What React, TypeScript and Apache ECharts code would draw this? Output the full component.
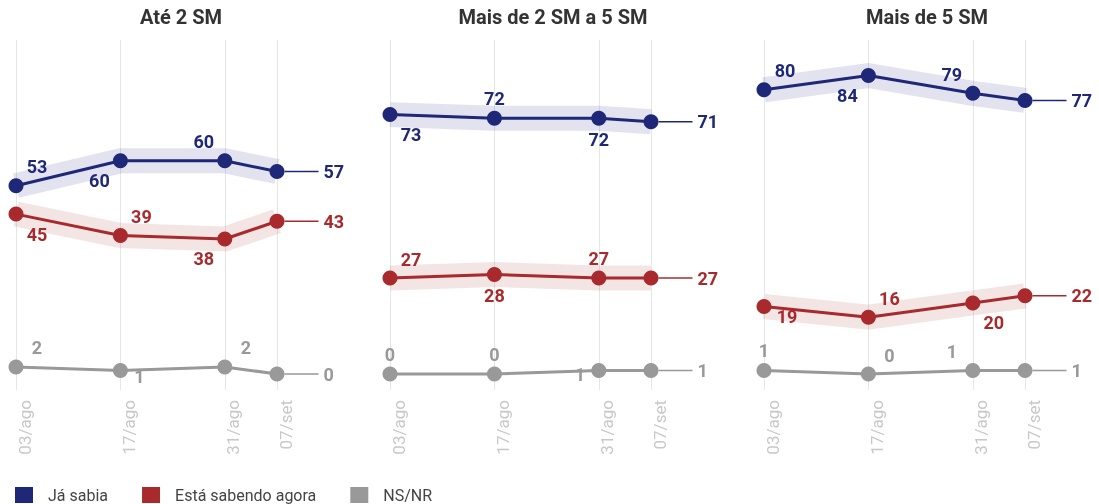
import React, { useEffect, useRef } from "react";
import * as echarts from "echarts";

// ---- data ----
const dates = ["2022-08-03", "2022-08-17", "2022-08-31", "2022-09-07"];
const dateLabels = ["03/ago", "17/ago", "31/ago", "07/set"];
const panelTitles = ["Até 2 SM", "Mais de 2 SM a 5 SM", "Mais de 5 SM"];
const seriesNames = ["Já sabia", "Está sabendo agora", "NS/NR"];
const jaSabia = [
  [53, 60, 60, 57],
  [73, 72, 72, 71],
  [80, 84, 79, 77],
];
const sabendoAgora = [
  [45, 39, 38, 43],
  [27, 28, 27, 27],
  [19, 16, 20, 22],
];
const nsnr = [
  [2, 1, 2, 0],
  [0, 0, 1, 1],
  [1, 0, 1, 1],
];

// ---- styles ----
const colors = ["#1f2878", "#a82a2d", "#999999"];
const bandColors = ["rgba(31,40,120,0.13)", "rgba(168,42,45,0.12)", null];
const offsets: Record<string, number[]> = {
  ar: [21, -19],
  al: [-21, -19],
  br: [21, 20],
  bl: [-21, 20],
  a: [0, -20],
  b: [0, 21],
  rl: [19, 6],
  ll: [-19, 4],
  rl2: [23, 10],
};
const placements = [
  [["ar", "bl", "al"], ["br", "ar", "bl"], ["ar", "rl", "ar"]],
  [["br", "a", "b"], ["ar", "b", "a"], ["a", "a", "ll"]],
  [["ar", "bl", "al"], ["rl2", "ar", "br"], ["a", "ar", "al"]],
];
const gridLefts = [16, 390, 764];
const gridWidth = 261;
const titleCenters = [181, 553, 927];

export default function App() {
  const ref = useRef<HTMLDivElement>(null);
  useEffect(() => {
    if (!ref.current) return;
    const chart = echarts.init(ref.current, null, { renderer: "svg" });
    const t0 = Date.parse(dates[0] + "T00:00:00Z");
    // day offsets from the first survey date
    const days = dates.map((d) => Math.round((Date.parse(d + "T00:00:00Z") - t0) / 86400000));
    const allData = [jaSabia, sabendoAgora, nsnr];

    const grids: any[] = [];
    const xAxes: any[] = [];
    const yAxes: any[] = [];
    const series: any[] = [];

    panelTitles.forEach((_, p) => {
      grids.push({ left: gridLefts[p], width: gridWidth, top: 40, height: 350 });
      xAxes.push({
        type: "value",
        gridIndex: p,
        min: days[0],
        max: days[days.length - 1],
        axisLine: { show: false },
        axisTick: { show: false },
        splitLine: { show: false },
        axisLabel: {
          customValues: days,
          rotate: 90,
          margin: 10,
          color: "#c8c8c8",
          fontSize: 17,
          fontFamily: "Roboto",
          verticalAlign: "top",
          formatter: (v: number) => {
            const i = days.indexOf(v);
            return i >= 0 ? dateLabels[i] : "";
          },
        },
      });
      yAxes.push({
        type: "value",
        gridIndex: p,
        min: -4.5,
        max: 94,
        show: false,
        splitLine: { show: false },
      });

      // vertical grid lines
      series.push({
        type: "line",
        name: "grid" + p,
        xAxisIndex: p,
        yAxisIndex: p,
        data: [],
        silent: true,
        z: 0,
        markLine: {
          silent: true,
          z: 0,
          symbol: ["none", "none"],
          label: { show: false },
          lineStyle: { color: "#e6e6e6", width: 1, type: "solid" },
          emphasis: { disabled: true },
          data: days.map((t) => ({ xAxis: t })),
        },
      });

      allData.forEach((set, s) => {
        const vals = set[p];
        const color = colors[s];
        if (bandColors[s]) {
          series.push({
            type: "line",
            name: "band" + s,
            xAxisIndex: p,
            yAxisIndex: p,
            data: vals.map((v, i) => [days[i], v]),
            symbol: "none",
            silent: true,
            clip: false,
            z: 1,
            lineStyle: { color: bandColors[s], width: 25, cap: "butt", join: "miter" },
            emphasis: { disabled: true },
          });
        }
        series.push({
          type: "line",
          name: seriesNames[s],
          xAxisIndex: p,
          yAxisIndex: p,
          clip: false,
          z: 3 + (2 - s),
          symbol: "circle",
          symbolSize: 15,
          itemStyle: { color },
          lineStyle: { color, width: 3 },
          emphasis: { disabled: true },
          data: vals.map((v, i) => {
            if (i === vals.length - 1) {
              return {
                value: [days[i], v],
                label: {
                  show: true,
                  position: "right",
                  distance: 0,
                  formatter: "{l| }{v|" + v + "}",
                  rich: {
                    l: { width: 34, height: 1.5, backgroundColor: color },
                    v: {
                      color,
                      fontSize: 18,
                      fontWeight: "bold",
                      fontFamily: "Roboto",
                      padding: [0, 0, 0, 5],
                    },
                  },
                },
              };
            }
            return {
              value: [days[i], v],
              label: {
                show: true,
                position: "inside",
                offset: offsets[placements[p][s][i]],
                formatter: String(v),
                color,
                fontSize: 18,
                fontWeight: "bold",
                fontFamily: "Roboto",
              },
            };
          }),
        });
      });
    });

    chart.setOption({
      animation: false,
      textStyle: { fontFamily: "Roboto" },
      grid: grids,
      xAxis: xAxes,
      yAxis: yAxes,
      series,
      legend: {
        data: seriesNames,
        left: 15,
        top: 487,
        padding: 0,
        icon: "rect",
        itemWidth: 18,
        itemHeight: 16,
        itemGap: 34,
        selectedMode: false,
        textStyle: { color: "#444", fontSize: 16, fontFamily: "Roboto", padding: [0, 0, 0, 10] },
      },
      graphic: panelTitles.map((t, p) => ({
        type: "text",
        x: titleCenters[p],
        y: 17,
        style: {
          text: t,
          textAlign: "center",
          textVerticalAlign: "middle",
          font: "bold 20px Roboto",
          fill: "#333",
        },
      })),
    });
    return () => chart.dispose();
  }, []);
  return (
    <div
      ref={ref}
      style={{ position: "fixed", left: 0, top: 0, width: 1099, height: 504 }}
    />
  );
}
